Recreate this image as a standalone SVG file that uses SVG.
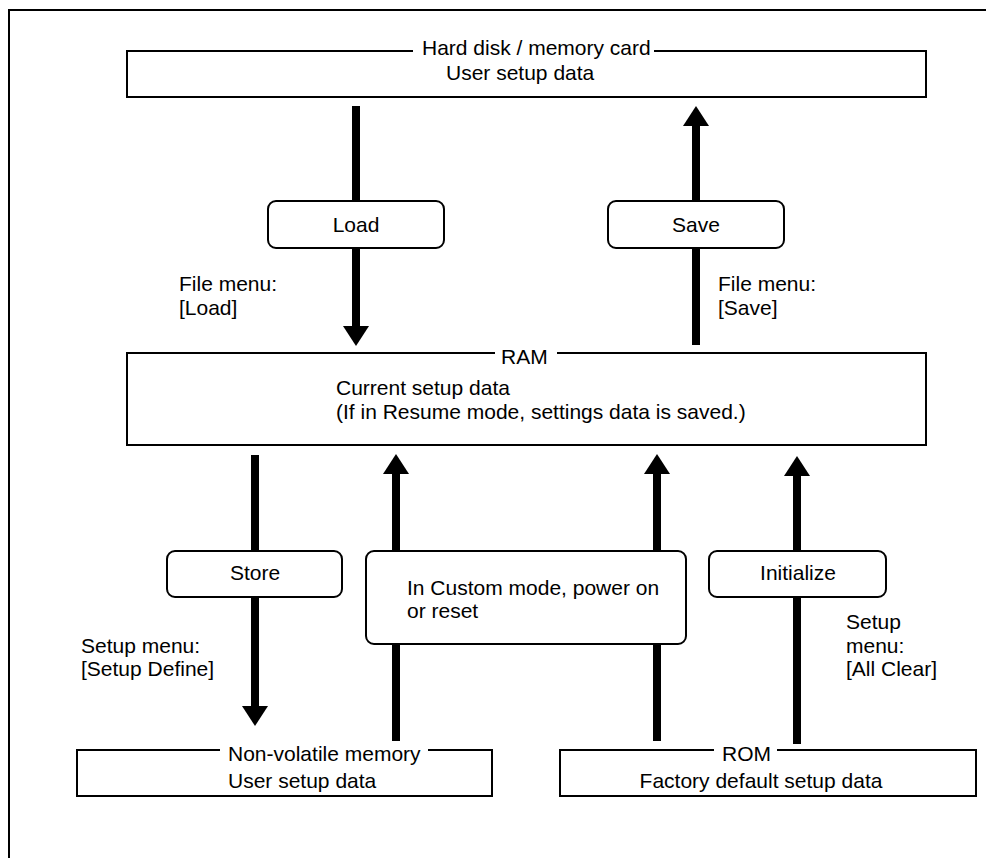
<svg xmlns="http://www.w3.org/2000/svg" width="986" height="858" viewBox="0 0 986 858">
<defs>
<style>
text{font-family:"Liberation Sans",Arial,sans-serif;font-size:21px;fill:#000}
.c{text-anchor:middle}
.box{fill:none;stroke:#000;stroke-width:2}
.rbox{fill:#fff;stroke:#000;stroke-width:2}
.shaft{stroke:#000;stroke-width:8;fill:none}
</style>
<marker id="ah" markerUnits="userSpaceOnUse" markerWidth="22" markerHeight="28" refX="0" refY="13" orient="auto" viewBox="0 0 22 26">
<path d="M0,0 L20,13 L0,26 Z" fill="#000"/>
</marker>
</defs>
<rect width="986" height="858" fill="#fff"/>
<path d="M9,858 V10 H986" fill="none" stroke="#000" stroke-width="2"/>

<g id="connectors">
<line class="shaft" x1="356" y1="106" x2="356" y2="326" marker-end="url(#ah)"/>
<line class="shaft" x1="696" y1="345" x2="696" y2="126" marker-end="url(#ah)"/>
<line class="shaft" x1="255" y1="455" x2="255" y2="706" marker-end="url(#ah)"/>
<line class="shaft" x1="396" y1="741" x2="396" y2="474" marker-end="url(#ah)"/>
<line class="shaft" x1="657" y1="741" x2="657" y2="474" marker-end="url(#ah)"/>
<line class="shaft" x1="797" y1="744" x2="797" y2="476" marker-end="url(#ah)"/>
</g>

<g id="harddisk">
<path class="box" d="M413,51 H127 V97 H926 V51 H654"/>
<text x="422" y="55">Hard disk / memory card</text>
<text x="446" y="80">User setup data</text>
</g>

<g id="load">
<rect class="rbox" x="268" y="201" width="176" height="47" rx="8"/>
<text class="c" x="356" y="232">Load</text>
</g>
<g id="save">
<rect class="rbox" x="608" y="201" width="176" height="47" rx="8"/>
<text class="c" x="696" y="232">Save</text>
</g>
<g id="load-label">
<text x="179" y="291">File menu:</text>
<text x="179" y="315">[Load]</text>
</g>
<g id="save-label">
<text x="718" y="291">File menu:</text>
<text x="718" y="315">[Save]</text>
</g>

<g id="ram">
<path class="box" d="M495,353 H127 V445 H926 V353 H557"/>
<text x="501" y="364">RAM</text>
<text x="336" y="395">Current setup data</text>
<text x="336" y="419">(If in Resume mode, settings data is saved.)</text>
</g>

<g id="store">
<rect class="rbox" x="167" y="551" width="175" height="46" rx="8"/>
<text class="c" x="255" y="580">Store</text>
</g>
<g id="custom">
<rect class="rbox" x="366" y="551" width="320" height="93" rx="8"/>
<text x="407" y="595">In Custom mode, power on</text>
<text x="407" y="618">or reset</text>
</g>
<g id="initialize">
<rect class="rbox" x="709" y="551" width="177" height="46" rx="8"/>
<text class="c" x="798" y="580">Initialize</text>
</g>
<g id="store-label">
<text x="81" y="653">Setup menu:</text>
<text x="81" y="676">[Setup Define]</text>
</g>
<g id="init-label">
<text x="846" y="629">Setup</text>
<text x="846" y="653">menu:</text>
<text x="846" y="676">[All Clear]</text>
</g>

<g id="nonvolatile">
<path class="box" d="M220,750 H77 V796 H492 V750 H428"/>
<text x="228" y="761">Non-volatile memory</text>
<text x="228" y="788">User setup data</text>
</g>
<g id="rom">
<path class="box" d="M714,750 H560 V796 H976 V750 H777"/>
<text x="722" y="761">ROM</text>
<text class="c" x="761" y="788">Factory default setup data</text>
</g>
</svg>
